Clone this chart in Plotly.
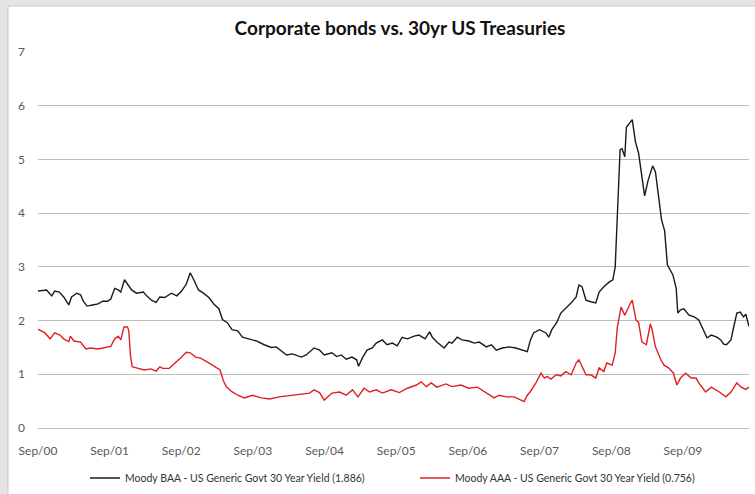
import plotly.graph_objects as go

# Moody BAA - US Generic Govt 30 Year Yield spread
baa_dates = [
    "2000-09-01", "2000-10-15", "2000-11-10", "2000-11-25", "2000-12-19", "2001-01-10", "2001-02-05",
    "2001-02-19", "2001-03-17", "2001-04-06", "2001-04-20", "2001-05-09", "2001-06-06", "2001-07-04",
    "2001-07-28", "2001-08-21", "2001-09-07", "2001-09-27", "2001-10-15", "2001-10-28", "2001-11-16",
    "2001-12-01", "2001-12-22", "2002-01-16", "2002-02-20", "2002-03-09", "2002-04-02", "2002-04-26",
    "2002-05-15", "2002-06-09", "2002-07-13", "2002-08-10", "2002-09-03", "2002-09-27", "2002-10-17",
    "2002-11-04", "2002-11-28", "2002-12-23", "2003-01-20", "2003-02-14", "2003-03-12", "2003-03-30",
    "2003-04-24", "2003-05-18", "2003-06-16", "2003-07-10", "2003-08-16", "2003-09-19", "2003-10-29",
    "2003-12-05", "2003-12-29", "2004-01-30", "2004-02-20", "2004-03-21", "2004-05-05", "2004-05-30",
    "2004-06-24", "2004-07-09", "2004-08-06", "2004-08-30", "2004-10-08", "2004-11-01", "2004-11-25",
    "2004-12-20", "2005-01-18", "2005-02-11", "2005-02-21", "2005-03-12", "2005-04-05", "2005-05-02",
    "2005-05-22", "2005-06-22", "2005-07-16", "2005-08-12", "2005-09-06", "2005-10-01", "2005-10-28",
    "2005-12-01", "2005-12-26", "2006-01-26", "2006-02-18", "2006-03-04", "2006-03-27", "2006-05-03",
    "2006-05-28", "2006-06-12", "2006-07-09", "2006-08-02", "2006-09-06", "2006-10-04", "2006-10-29",
    "2006-12-04", "2006-12-30", "2007-01-24", "2007-02-24", "2007-03-30", "2007-05-03", "2007-05-31",
    "2007-07-01", "2007-07-17", "2007-08-02", "2007-09-01", "2007-10-04", "2007-10-18", "2007-11-03",
    "2007-11-29", "2007-12-19", "2008-01-18", "2008-02-10", "2008-03-06", "2008-03-20", "2008-04-05",
    "2008-04-25", "2008-05-20", "2008-06-14", "2008-07-01", "2008-07-25", "2008-08-22", "2008-09-09",
    "2008-09-21", "2008-10-02", "2008-10-16", "2008-10-26", "2008-11-09", "2008-11-17", "2008-12-03",
    "2008-12-17", "2009-01-02", "2009-01-18", "2009-02-18", "2009-03-07", "2009-03-31", "2009-04-14",
    "2009-05-15", "2009-05-31", "2009-06-14", "2009-07-12", "2009-07-29", "2009-08-06", "2009-08-20",
    "2009-09-06", "2009-10-02", "2009-10-29", "2009-11-21", "2009-12-08", "2010-01-02", "2010-01-24",
    "2010-02-21", "2010-03-13", "2010-03-28", "2010-04-11", "2010-05-04", "2010-05-18", "2010-06-03",
    "2010-06-20", "2010-07-07", "2010-07-19", "2010-08-04",
]
baa_values = [
    2.55, 2.57, 2.46, 2.55, 2.53, 2.44, 2.29,
    2.44, 2.51, 2.48, 2.36, 2.27, 2.29, 2.31,
    2.36, 2.36, 2.40, 2.60, 2.57, 2.53, 2.76,
    2.68, 2.57, 2.51, 2.53, 2.46, 2.38, 2.34,
    2.44, 2.43, 2.51, 2.46, 2.55, 2.68, 2.89,
    2.76, 2.57, 2.51, 2.43, 2.31, 2.22, 2.02,
    1.96, 1.83, 1.81, 1.69, 1.66, 1.62, 1.55,
    1.50, 1.51, 1.42, 1.36, 1.38, 1.32, 1.36,
    1.45, 1.49, 1.45, 1.36, 1.40, 1.33, 1.36,
    1.28, 1.32, 1.27, 1.15, 1.30, 1.45, 1.49,
    1.58, 1.64, 1.55, 1.58, 1.53, 1.69, 1.66,
    1.71, 1.73, 1.66, 1.79, 1.69, 1.60, 1.49,
    1.60, 1.58, 1.69, 1.64, 1.62, 1.58, 1.60,
    1.51, 1.55, 1.45, 1.49, 1.51, 1.49, 1.45,
    1.42, 1.64, 1.77, 1.83, 1.77, 1.69, 1.83,
    1.97, 2.14, 2.25, 2.33, 2.44, 2.66, 2.63,
    2.38, 2.35, 2.33, 2.53, 2.63, 2.72, 2.76,
    3.00, 4.00, 5.18, 5.20, 5.05, 5.60, 5.68,
    5.74, 5.33, 5.12, 4.32, 4.60, 4.88, 4.77,
    3.88, 3.67, 3.04, 2.85, 2.60, 2.14, 2.20,
    2.22, 2.10, 2.07, 2.01, 1.88, 1.68, 1.73,
    1.69, 1.64, 1.56, 1.55, 1.64, 1.88, 2.14,
    2.16, 2.07, 2.12, 1.89,
]

# Moody AAA - US Generic Govt 30 Year Yield spread
aaa_dates = [
    "2000-09-01", "2000-10-06", "2000-11-02", "2000-11-25", "2000-12-22", "2001-01-10", "2001-02-05",
    "2001-02-13", "2001-03-03", "2001-04-06", "2001-05-03", "2001-05-26", "2001-07-04", "2001-08-04",
    "2001-09-07", "2001-09-27", "2001-10-15", "2001-10-28", "2001-11-13", "2001-12-01", "2001-12-08",
    "2001-12-16", "2001-12-25", "2002-01-25", "2002-02-26", "2002-03-31", "2002-04-26", "2002-05-15",
    "2002-05-30", "2002-07-02", "2002-07-21", "2002-08-10", "2002-09-03", "2002-09-27", "2002-10-17",
    "2002-11-14", "2002-12-08", "2003-01-11", "2003-02-09", "2003-03-06", "2003-03-18", "2003-04-04",
    "2003-04-18", "2003-05-15", "2003-06-16", "2003-07-19", "2003-08-30", "2003-10-14", "2003-11-25",
    "2004-01-14", "2004-03-06", "2004-04-23", "2004-06-16", "2004-07-09", "2004-08-06", "2004-08-30",
    "2004-10-08", "2004-11-17", "2004-12-20", "2005-01-21", "2005-02-18", "2005-03-21", "2005-04-18",
    "2005-05-22", "2005-06-22", "2005-08-06", "2005-09-17", "2005-10-28", "2005-12-13", "2006-01-06",
    "2006-02-01", "2006-02-26", "2006-03-27", "2006-05-12", "2006-06-12", "2006-07-27", "2006-09-06",
    "2006-10-20", "2006-12-04", "2007-01-13", "2007-02-07", "2007-03-16", "2007-04-25", "2007-05-31",
    "2007-06-15", "2007-07-01", "2007-07-17", "2007-08-14", "2007-09-09", "2007-09-26", "2007-10-10",
    "2007-10-29", "2007-11-26", "2007-12-19", "2008-01-13", "2008-02-10", "2008-03-06", "2008-03-20",
    "2008-04-05", "2008-04-25", "2008-05-20", "2008-06-14", "2008-07-01", "2008-07-25", "2008-08-09",
    "2008-09-06", "2008-09-21", "2008-10-02", "2008-10-21", "2008-11-09", "2008-12-03", "2008-12-17",
    "2009-01-05", "2009-01-18", "2009-02-04", "2009-02-27", "2009-03-19", "2009-03-28", "2009-04-14",
    "2009-05-12", "2009-05-28", "2009-06-20", "2009-07-15", "2009-08-01", "2009-08-20", "2009-09-15",
    "2009-10-13", "2009-11-07", "2009-11-21", "2009-12-26", "2010-01-24", "2010-03-06", "2010-04-08",
    "2010-05-04", "2010-06-03", "2010-06-25", "2010-07-19", "2010-08-04",
]
aaa_values = [
    1.84, 1.77, 1.66, 1.77, 1.73, 1.66, 1.61,
    1.71, 1.62, 1.60, 1.47, 1.49, 1.47, 1.50,
    1.52, 1.66, 1.71, 1.64, 1.88, 1.88, 1.81,
    1.36, 1.14, 1.11, 1.08, 1.10, 1.06, 1.14,
    1.11, 1.11, 1.17, 1.23, 1.32, 1.41, 1.40,
    1.32, 1.30, 1.23, 1.17, 1.12, 1.08, 0.88,
    0.77, 0.68, 0.61, 0.56, 0.61, 0.56, 0.54,
    0.58, 0.60, 0.63, 0.65, 0.71, 0.66, 0.52,
    0.65, 0.67, 0.61, 0.71, 0.58, 0.74, 0.67,
    0.71, 0.65, 0.71, 0.66, 0.74, 0.80, 0.86,
    0.77, 0.84, 0.76, 0.82, 0.77, 0.80, 0.74,
    0.76, 0.65, 0.56, 0.61, 0.58, 0.58, 0.52,
    0.49, 0.61, 0.68, 0.84, 1.02, 0.93, 0.96,
    0.91, 0.99, 0.97, 1.05, 0.99, 1.21, 1.27,
    1.14, 0.99, 0.99, 0.93, 1.12, 1.05, 1.21,
    1.17, 1.40, 1.88, 2.25, 2.10, 2.29, 2.38,
    2.01, 1.97, 1.60, 1.55, 1.94, 1.83, 1.51,
    1.27, 1.17, 1.12, 1.02, 0.80, 0.93, 1.02,
    0.93, 0.93, 0.84, 0.67, 0.76, 0.67, 0.58,
    0.67, 0.84, 0.76, 0.72, 0.76,
]

series_names = [
    "Moody BAA - US Generic Govt 30 Year Yield (1.886)",
    "Moody AAA - US Generic Govt 30 Year Yield (0.756)",
]
title_text = "Corporate bonds vs. 30yr US Treasuries"
x_range = ["2000-09-01", "2010-08-04"]
y_range = [0, 7]

FONT = "Lato, 'Open Sans', sans-serif"

fig = go.Figure()
fig.add_trace(go.Scatter(x=baa_dates, y=baa_values, mode="lines", name=series_names[0],
                         line=dict(color="#1a1a1a", width=1.4)))
fig.add_trace(go.Scatter(x=aaa_dates, y=aaa_values, mode="lines", name=series_names[1],
                         line=dict(color="#e02020", width=1.4)))

# white chart card on light gray page
fig.add_shape(type="rect", xref="paper", yref="paper", layer="below",
              x0=(8 - 38) / 711, x1=(770 - 38) / 711,
              y0=(428 - 510) / 376, y1=(428 - 6) / 376,
              fillcolor="white", line=dict(color="#c8c8c8", width=1))

fig.update_layout(
    width=755, height=494,
    margin=dict(l=38, r=6, t=52, b=66, autoexpand=False),
    paper_bgcolor="#e4e4e4",
    plot_bgcolor="white",
    font=dict(family=FONT, color="#404040"),
    title=dict(text="<b>" + title_text + "</b>", x=400 / 755, xanchor="center",
               y=1 - 28 / 494, yanchor="middle",
               font=dict(family=FONT, size=19, color="#111111")),
    showlegend=True,
    legend=dict(orientation="h", x=(85 - 38) / 711, xanchor="left",
                yref="container", y=(494 - 478) / 494, yanchor="middle",
                font=dict(family=FONT, size=10.5, color="#333333"), bgcolor="rgba(0,0,0,0)",
                itemwidth=30, entrywidth=285, borderwidth=0),
    xaxis=dict(type="date", range=x_range, dtick="M12", tick0="2000-09-01", tickformat="%b/%y",
               showgrid=False, zeroline=False, showline=False, ticks="", automargin=False,
               tickfont=dict(family=FONT, size=12, color="#595959"), ticklabelstandoff=14),
    yaxis=dict(range=y_range, dtick=1, showgrid=True, gridcolor="#bdbdbd", gridwidth=1,
               zeroline=True, zerolinecolor="#bdbdbd", zerolinewidth=1, showline=False, ticks="",
               automargin=False,
               tickfont=dict(family=FONT, size=12, color="#595959"), ticklabelstandoff=12),
)

fig.write_html("out.html", config={"displayModeBar": False},
               post_script="document.body.style.margin='0px';document.body.style.padding='0px';")
